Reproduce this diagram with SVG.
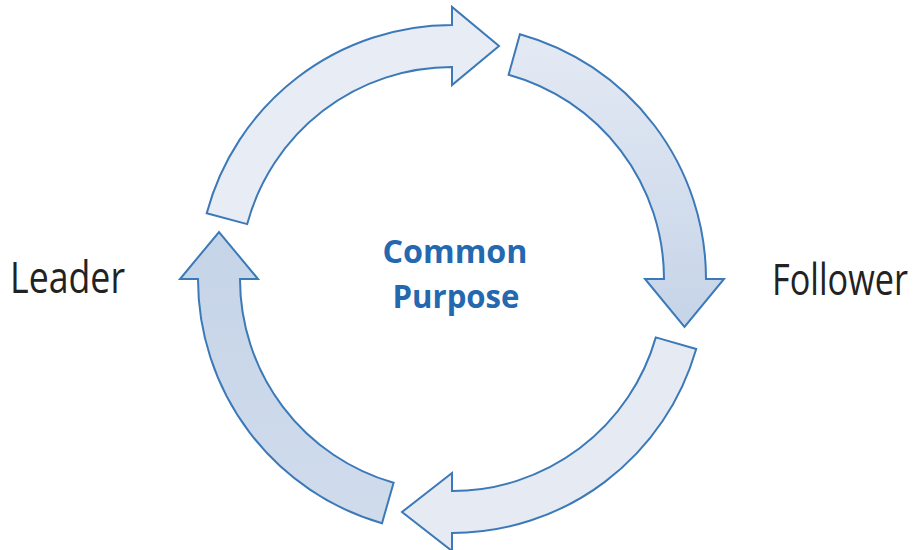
<svg xmlns="http://www.w3.org/2000/svg" width="915" height="550" viewBox="0 0 915 550">
  <defs>
    <linearGradient id="g2" x1="0" y1="0" x2="0" y2="1">
      <stop offset="0" stop-color="#e4eaf4"/>
      <stop offset="1" stop-color="#c6d4e8"/>
    </linearGradient>
    <linearGradient id="g4" x1="0" y1="0" x2="0" y2="1">
      <stop offset="0" stop-color="#c6d4e8"/>
      <stop offset="1" stop-color="#d0dcec"/>
    </linearGradient>
  </defs>
  <style>
    .arrow { stroke: #3b79b8; stroke-width: 2; stroke-linejoin: miter; }
    .side { font-family: "Open Sans", "Liberation Sans", sans-serif; font-size: 35px; fill: #222222; }
    .center { font-family: "Open Sans", "Liberation Sans", sans-serif; font-size: 33px; font-weight: bold; fill: #2468b0; text-anchor: middle; }
  </style>
  <rect width="915" height="550" fill="#ffffff"/>
  <g id="connectors">
    <path id="arrow-top-left" class="arrow" fill="#e7ecf5" d="M 206.7 213.3 A 254 254 0 0 1 452 25 L 452 7 L 499 46 L 452 85 L 452 67 A 212 212 0 0 0 247.2 224.1 Z"/>
    <path id="arrow-top-right" class="arrow" fill="url(#g2)" d="M 519.9 34.2 A 254 254 0 0 1 706 279 L 724 279 L 684.5 327 L 645 279 L 664 279 A 212 212 0 0 0 508.6 74.7 Z"/>
    <path id="arrow-bottom-right" class="arrow" fill="#e5eaf3" d="M 696.2 349 A 254 254 0 0 1 452 533 L 452 551 L 402 512 L 452 473 L 452 491 A 212 212 0 0 0 655.8 337.4 Z"/>
    <path id="arrow-bottom-left" class="arrow" fill="url(#g4)" d="M 382 523.2 A 254 254 0 0 1 198 279 L 180 279 L 219 232 L 258 279 L 240 279 A 212 212 0 0 0 393.6 482.8 Z"/>
  </g>
  <g id="leader">
    <text class="side" transform="translate(10,293) scale(1,1.25)" x="0" y="0" textLength="115" lengthAdjust="spacingAndGlyphs">Leader</text>
  </g>
  <g id="follower">
    <text class="side" transform="translate(772,295) scale(1,1.25)" x="0" y="0" textLength="136" lengthAdjust="spacingAndGlyphs">Follower</text>
  </g>
  <g id="common-purpose">
    <text class="center" x="455" y="263" textLength="145" lengthAdjust="spacingAndGlyphs">Common</text>
    <text class="center" x="456" y="308" textLength="127" lengthAdjust="spacingAndGlyphs">Purpose</text>
  </g>
</svg>
